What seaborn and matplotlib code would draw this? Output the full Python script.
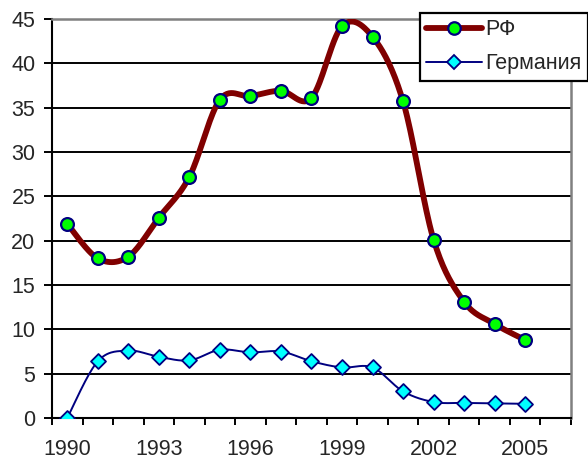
import numpy as np
import pandas as pd
import matplotlib
matplotlib.use("Agg")
import matplotlib.pyplot as plt
from matplotlib.lines import Line2D
import seaborn as sns

years = list(range(1990, 2006))
rf = [21.9, 18.0, 18.2, 22.6, 27.2, 35.9, 36.3, 36.9, 36.1, 44.2, 43.0, 35.7, 20.1, 13.1, 10.6, 8.8]
germany = [0.0, 6.4, 7.6, 6.9, 6.5, 7.7, 7.4, 7.5, 6.4, 5.7, 5.7, 3.0, 1.8, 1.7, 1.65, 1.6]
series_names = ["РФ", "Германия"]
x_labels = [1990, 1993, 1996, 1999, 2002, 2005]


def smooth(xs, ys, n=30):
    """Catmull-Rom curve through the points, as in office-style smoothed lines."""
    xs = np.asarray(xs, float)
    ys = np.asarray(ys, float)
    px = np.concatenate([[xs[0]], xs, [xs[-1]]])
    py = np.concatenate([[ys[0]], ys, [ys[-1]]])
    out_x, out_y = [], []
    for i in range(1, len(px) - 2):
        t = np.linspace(0, 1, n, endpoint=False)
        p0, p1, p2, p3 = (np.array([px[j], py[j]]) for j in (i - 1, i, i + 1, i + 2))
        c1 = p1 + (p2 - p0) / 6.0
        c2 = p2 - (p3 - p1) / 6.0
        b = ((1 - t) ** 3)[:, None] * p1 + (3 * (1 - t) ** 2 * t)[:, None] * c1 \
            + (3 * (1 - t) * t ** 2)[:, None] * c2 + (t ** 3)[:, None] * p2
        out_x.extend(b[:, 0])
        out_y.extend(b[:, 1])
    out_x.append(xs[-1])
    out_y.append(ys[-1])
    return np.array(out_x), np.array(out_y)


sns.set_style("white")
plt.rcParams["font.family"] = ["Liberation Sans", "DejaVu Sans"]

FS = 15.5
fig = plt.figure(figsize=(5.88, 4.61), dpi=100)
ax = fig.add_axes([52 / 588, 1 - 418 / 461, (571 - 52) / 588, (418 - 19) / 461])

RED = "#800000"
NAVY = "#000080"

sx, sy = smooth(years, rf)
sns.lineplot(x=sx, y=sy, ax=ax, color=RED, linewidth=4.2, sort=False,
             estimator=None, solid_capstyle="round", zorder=3)
sns.scatterplot(x=years, y=rf, ax=ax, marker="o", s=85, color="#00FF00",
                edgecolor=NAVY, linewidth=1.6, zorder=4)

gx, gy = smooth(years, germany)
sns.lineplot(x=gx, y=gy, ax=ax, color=NAVY, linewidth=1.4, sort=False,
             estimator=None, zorder=3)
sns.scatterplot(x=years, y=germany, ax=ax, marker="D", s=58, color="#00FFFF",
                edgecolor=NAVY, linewidth=1.3, zorder=4)

ax.set_xlim(1989.5, 2006.5)
ax.set_ylim(0, 45)

ax.set_yticks(range(0, 46, 5))
ax.set_xticks(x_labels)
ax.set_xticklabels([str(v) for v in x_labels])
ax.set_xticks(np.arange(1989.5, 2007, 1.0), minor=True)
ax.tick_params(axis="x", which="major", length=0, pad=15, labelsize=FS)
ax.tick_params(axis="x", which="minor", length=5, width=1.4, color="black",
               direction="out", bottom=True)
ax.tick_params(axis="y", length=6, width=1.4, color="black", direction="out",
               left=True, pad=6, labelsize=FS)

ax.yaxis.grid(True, color="black", linewidth=1.4)
ax.xaxis.grid(False)
ax.set_axisbelow(True)

for side in ("left", "bottom"):
    ax.spines[side].set_color("black")
    ax.spines[side].set_linewidth(1.5)
for side in ("top", "right"):
    ax.spines[side].set_color("#808080")
    ax.spines[side].set_linewidth(1.8)
    ax.spines[side].set_visible(True)

handles = [
    Line2D([], [], color=RED, linewidth=4.2, marker="o", markersize=9,
           markerfacecolor="#00FF00", markeredgecolor=NAVY, markeredgewidth=1.6,
           solid_capstyle="round"),
    Line2D([], [], color=NAVY, linewidth=1.4, marker="D", markersize=7.5,
           markerfacecolor="#00FFFF", markeredgecolor=NAVY, markeredgewidth=1.3),
]
leg = fig.legend(handles, series_names, loc="upper left",
                 bbox_to_anchor=(420 / 588, 1 - 13 / 461), fancybox=False,
                 framealpha=1, edgecolor="black", fontsize=FS,
                 handlelength=2.6, handletextpad=0.15, borderpad=0.3,
                 labelspacing=0.6, borderaxespad=0)
leg.get_frame().set_linewidth(1.6)

fig.savefig("out.png", dpi=100)
